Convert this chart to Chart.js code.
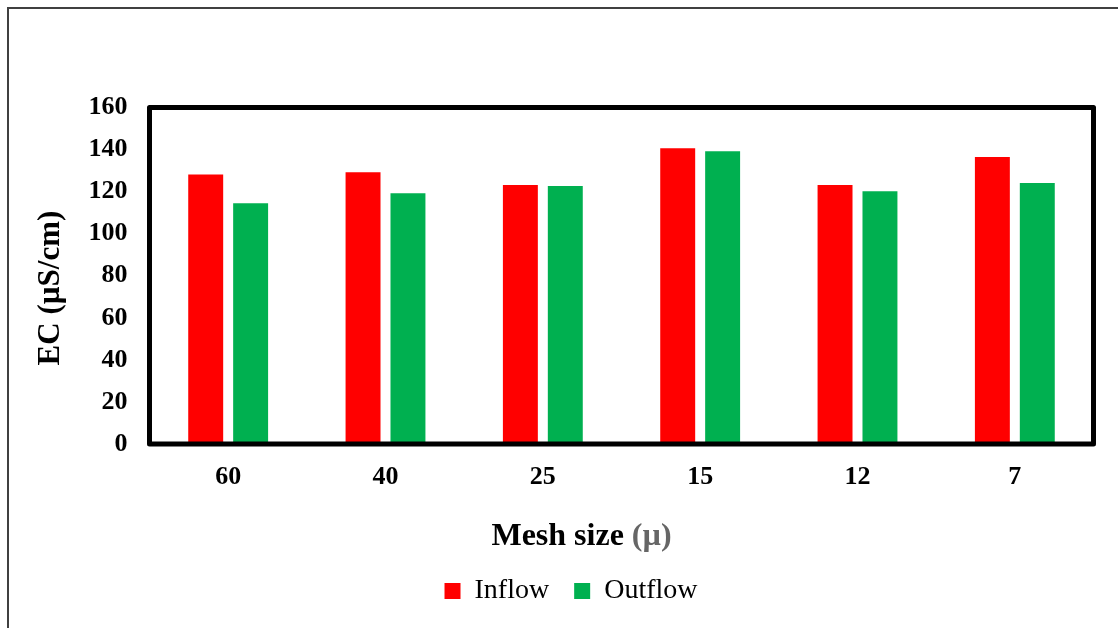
<!DOCTYPE html>
<html>
<head>
<meta charset="utf-8">
<title>EC by mesh size</title>
<script src="https://cdn.jsdelivr.net/npm/chart.js"></script>
<style>
  html, body { margin: 0; padding: 0; background: #fff; }
  #wrap { position: relative; width: 1118px; height: 628px; }
</style>
</head>
<body>
<div id="wrap"><canvas id="myChart" width="1118" height="628"></canvas></div>
<script>
// values
const meshSizes = ["60", "40", "25", "15", "12", "7"];
const inflowEC = [128.2, 129.2, 123.2, 140.6, 123.2, 136.5];
const outflowEC = [114.5, 119.2, 122.7, 139.2, 120.2, 124.1];
const yTicks = [0, 20, 40, 60, 80, 100, 120, 140, 160];

const serif = "'Liberation Serif', 'Times New Roman', serif";

// page border, plot frame and the two axis titles
const decorations = {
  id: "decorations",
  beforeDraw(chart) {
    const c = chart.ctx;
    c.save();
    c.strokeStyle = "#404040";
    c.lineWidth = 2;
    c.beginPath();
    c.moveTo(8, 628);
    c.lineTo(8, 8);
    c.lineTo(1118, 8);
    c.stroke();
    c.restore();
  },
  afterDatasetsDraw(chart) {
    const c = chart.ctx;
    const a = chart.chartArea;
    c.save();
    c.strokeStyle = "#000";
    c.lineWidth = 5;
    c.lineJoin = "round";
    c.strokeRect(a.left, a.top, a.right - a.left, a.bottom - a.top);

    // y title
    c.fillStyle = "#000";
    c.font = "bold 31px " + serif;
    c.textAlign = "center";
    c.textBaseline = "middle";
    c.translate(51, 288);
    c.rotate(-Math.PI / 2);
    c.fillText("EC (µS/cm)", 0, 0);
    c.restore();

    // x title, unit in grey
    c.save();
    c.font = "bold 32px " + serif;
    c.textBaseline = "alphabetic";
    const main = "Mesh size ";
    const unit = "(µ)";
    const w1 = c.measureText(main).width;
    const w2 = c.measureText(unit).width;
    const cx = (a.left + a.right) / 2 - 40;
    const x0 = cx - (w1 + w2) / 2;
    c.fillStyle = "#000";
    c.fillText(main, x0, 545);
    c.fillStyle = "#666666";
    c.fillText(unit, x0 + w1, 545);
    c.restore();
  }
};

new Chart(document.getElementById("myChart"), {
  type: "bar",
  data: {
    labels: meshSizes,
    datasets: [
      { label: "Inflow", data: inflowEC, backgroundColor: "#FF0000", borderWidth: 0 },
      { label: "Outflow", data: outflowEC, backgroundColor: "#00B050", borderWidth: 0 }
    ]
  },
  options: {
    responsive: false,
    animation: false,
    devicePixelRatio: 1,
    categoryPercentage: 0.571,
    barPercentage: 0.778,
    layout: { padding: { top: 107.5, right: 24.5, left: 48.5, bottom: 13 } },
    plugins: {
      tooltip: { enabled: false },
      legend: {
        position: "bottom",
        labels: {
          color: "#000",
          font: { family: serif, size: 28 },
          boxWidth: 16,
          boxHeight: 16,
          padding: 25
        }
      }
    },
    scales: {
      x: {
        grid: { display: false, drawTicks: false },
        border: { display: false },
        ticks: { color: "#000", font: { family: serif, size: 26, weight: "bold" }, padding: 18 },
        afterFit(s) { s.height = 108; }
      },
      y: {
        min: 0,
        max: 160,
        grid: { display: false, drawTicks: false },
        border: { display: false },
        afterBuildTicks(s) { s.ticks = yTicks.map(v => ({ value: v })); },
        ticks: { color: "#000", font: { family: serif, size: 26, weight: "bold" }, padding: 22 },
        afterFit(s) { s.width = 101; }
      }
    }
  },
  plugins: [decorations]
});
</script>
</body>
</html>
